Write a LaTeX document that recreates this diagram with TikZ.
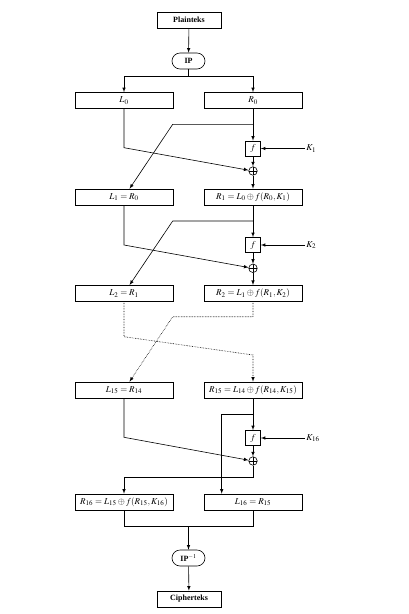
\documentclass[tikz,border=0pt]{standalone}
\usepackage{amsmath}
\usepackage{mathptmx}
\usepackage{fontspec}
\setmainfont{Liberation Serif}
\usepackage{tikz}
\usetikzlibrary{shapes.misc}

\tikzset{
  >=latex,
  every path/.style={line width=0.6pt},
  endbox/.style={draw,rectangle,minimum width=64pt,minimum height=16pt,inner sep=0pt,font=\footnotesize\bfseries},
  permbox/.style={draw,rounded rectangle,minimum width=33pt,minimum height=16pt,inner sep=0pt,font=\footnotesize\bfseries},
  halfbox/.style={draw,rectangle,minimum width=98pt,minimum height=16pt,inner sep=0pt,font=\small},
  fbox/.style={draw,rectangle,minimum size=15pt,inner sep=0pt,font=\small},
  xorop/.style={draw,circle,minimum size=8.5pt,inner sep=0pt,
    path picture={\draw (path picture bounding box.north) -- (path picture bounding box.south)
      (path picture bounding box.west) -- (path picture bounding box.east);}},
  keylab/.style={inner sep=1pt,font=\small},
}

\begin{document}
\begin{tikzpicture}[x=1pt,y=-1pt]
\useasboundingbox (0,0) rectangle (409,614);

\node[endbox] (plain) at (189,20) {Plainteks};
\node[permbox] (ip) at (188.5,61) {IP};
\node[halfbox] (L0) at (124,100.5) {$L_0$};
\node[halfbox] (R0) at (253,100.5) {$R_0$};
\node[fbox] (f1) at (253,148.5) {$f$};
\node[xorop] (x1) at (253,171) {};
\node[keylab,anchor=west] (k1) at (305,148.5) {$K_1$};
\node[halfbox] (L1) at (124,197) {$L_1 = R_0$};
\node[halfbox] (R1) at (253,197) {$R_1 = L_0 \oplus f(R_0, K_1)$};
\node[fbox] (f2) at (253,245) {$f$};
\node[xorop] (x2) at (253,268.3) {};
\node[keylab,anchor=west] (k2) at (305,245) {$K_2$};
\node[halfbox] (L2) at (124,293.3) {$L_2 = R_1$};
\node[halfbox] (R2) at (253,293.3) {$R_2 = L_1 \oplus f(R_1, K_2)$};
\node[halfbox] (L15) at (124,390) {$L_{15} = R_{14}$};
\node[halfbox] (R15) at (253,390) {$R_{15} = L_{14} \oplus f(R_{14}, K_{15})$};
\node[fbox] (f16) at (253,438) {$f$};
\node[xorop] (x16) at (253,461) {};
\node[keylab,anchor=west] (k16) at (305,438) {$K_{16}$};
\node[halfbox] (R16) at (124,502) {$R_{16} = L_{15} \oplus f(R_{15}, K_{16})$};
\node[halfbox] (L16) at (253,502) {$L_{16} = R_{15}$};
\node[permbox] (ipinv) at (188.5,558) {IP$^{-1}$};
\node[endbox] (ciph) at (189,599) {Cipherteks};

\draw[->] (plain) -- (ip);
\coordinate (s0) at (188.5,76);
\draw (ip) -- (s0);
\draw[->] (s0) -| (L0);
\draw[->] (s0) -| (R0);

% round 1
\coordinate (b1) at (253,124.3);
\coordinate (c1) at (172.7,124.3);
\coordinate (d1) at (124,147.7);
\draw[->] (R0) -- (f1);
\draw[->] (b1) -- (c1) -- (L1);
\draw[->] (k1) -- (f1);
\draw[->] (f1) -- (x1);
\draw[->] (L0) -- (d1) -- (x1);
\draw[->] (x1) -- (R1);

% round 2
\coordinate (b2) at (253,221);
\coordinate (c2) at (172.7,221);
\coordinate (d2) at (124,245);
\draw[->] (R1) -- (f2);
\draw[->] (b2) -- (c2) -- (L2);
\draw[->] (k2) -- (f2);
\draw[->] (f2) -- (x2);
\draw[->] (L1) -- (d2) -- (x2);
\draw[->] (x2) -- (R2);

% rounds 3 to 15
\coordinate (b3) at (253,316.7);
\coordinate (c3) at (172.7,316.7);
\coordinate (d3) at (124,336.7);
\coordinate (e3) at (253,355);
\draw[->,densely dotted] (R2) -- (b3) -- (c3) -- (L15);
\draw[->,densely dotted] (L2) -- (d3) -- (e3) -- (R15);

% round 16
\coordinate (b16) at (253,414);
\coordinate (c16) at (221.7,414);
\coordinate (d16) at (124,437.3);
\coordinate (e16) at (253,477.7);
\draw[->] (R15) -- (f16);
\draw[->] (b16) -- (c16) -- (c16 |- L16.north);
\draw[->] (k16) -- (f16);
\draw[->] (f16) -- (x16);
\draw[->] (L15) -- (d16) -- (x16);
\draw[->] (x16) -- (e16) -| (R16);

\coordinate (j1) at (124,526);
\coordinate (j2) at (253,526);
\coordinate (j0) at (188.5,526);
\draw (R16) -- (j1) -- (j2) -- (L16);
\draw[->] (j0) -- (ipinv);
\draw[->] (ipinv) -- (ciph);

\end{tikzpicture}
\end{document}
